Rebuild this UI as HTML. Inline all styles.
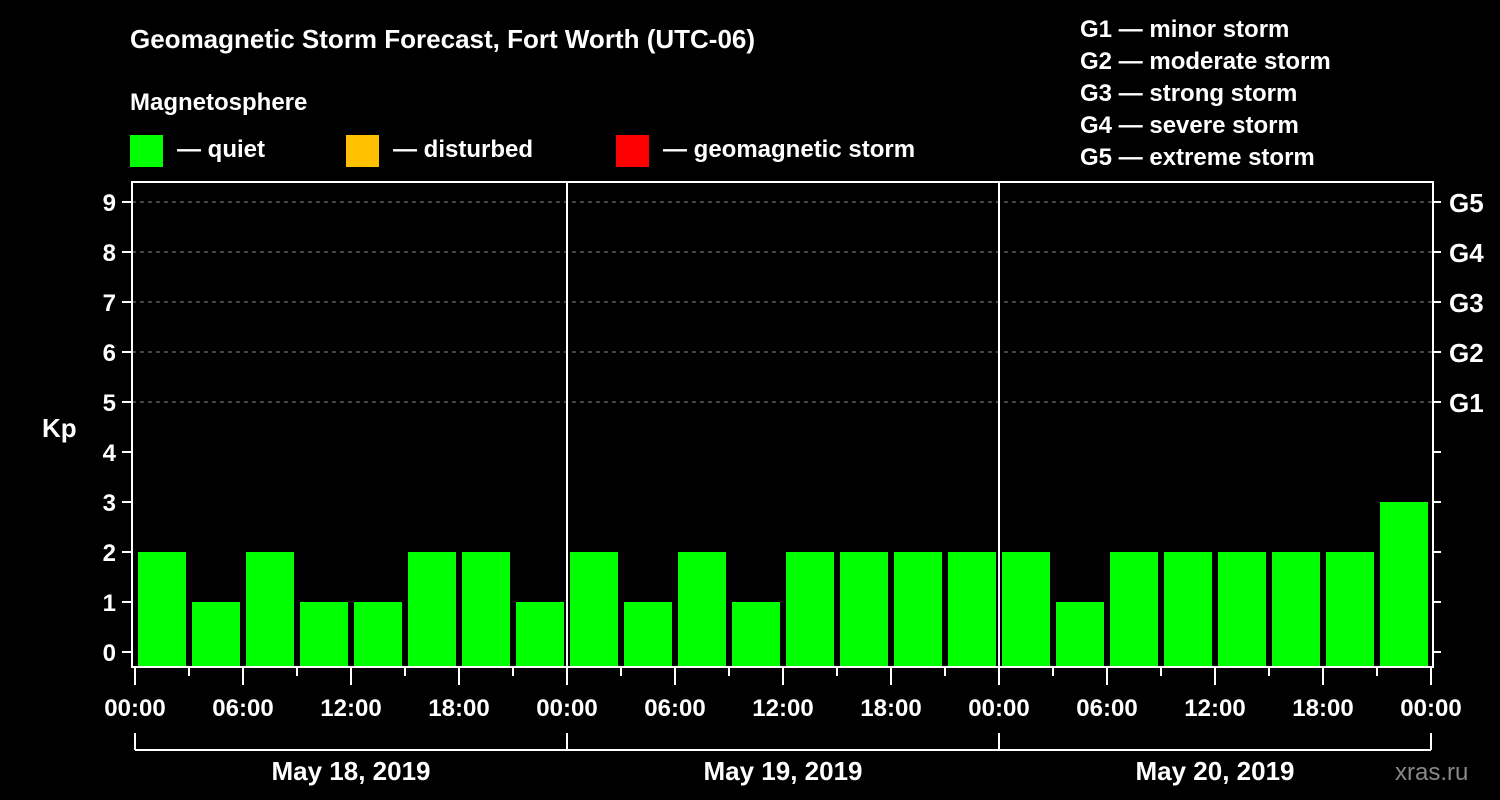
<!DOCTYPE html>
<html><head><meta charset="utf-8"><style>
body{margin:0;background:#000;}
svg{display:block;font-family:"Liberation Sans",Arial,sans-serif;font-weight:bold;}
</style></head><body>
<svg width="1500" height="800" viewBox="0 0 1500 800">
<rect width="1500" height="800" fill="#000"/>
<text x="130" y="48" fill="#fff" font-size="26">Geomagnetic Storm Forecast, Fort Worth (UTC-06)</text>
<text x="130" y="110" fill="#fff" font-size="24">Magnetosphere</text>
<g><rect x="130" y="135" width="33" height="32" fill="#00ff00"/><text x="177" y="157" fill="#fff" font-size="24">— quiet</text></g>
<g><rect x="346" y="135" width="33" height="32" fill="#ffc000"/><text x="393" y="157" fill="#fff" font-size="24">— disturbed</text></g>
<g><rect x="616" y="135" width="33" height="32" fill="#ff0000"/><text x="663" y="157" fill="#fff" font-size="24">— geomagnetic storm</text></g>
<g fill="#fff" font-size="24">
<text x="1080" y="37">G1 — minor storm</text>
<text x="1080" y="69">G2 — moderate storm</text>
<text x="1080" y="101">G3 — strong storm</text>
<text x="1080" y="133">G4 — severe storm</text>
<text x="1080" y="165">G5 — extreme storm</text>
</g>
<text x="42" y="437" fill="#fff" font-size="26">Kp</text>
<text x="1395" y="780" fill="#888" font-size="24" font-weight="normal">xras.ru</text>
<g id="chart"></g>
</svg>
<script>
const kpValues=[2,1,2,1,1,2,2,1, 2,1,2,1,2,2,2,2, 2,1,2,2,2,2,2,3];
const dayLabels=["May 18, 2019","May 19, 2019","May 20, 2019"];
const hourLabels=["00:00","06:00","12:00","18:00"];
const yTicks=[0,1,2,3,4,5,6,7,8,9];
const gLabels=["G1","G2","G3","G4","G5"];
const NS="http://www.w3.org/2000/svg";
const g=document.getElementById('chart');
const X0=135,SLOT=54,TOP=182,BOT=667,LEFT=132,RIGHT=1433;
const y=v=>652-v*50;
const x=i=>X0+i*SLOT;
function el(t,a,p){const e=document.createElementNS(NS,t);for(const k in a)e.setAttribute(k,a[k]);(p||g).appendChild(e);return e;}
// grid
for(let v=5;v<=9;v++){const l=el('line',{x1:LEFT,x2:RIGHT,y1:y(v),y2:y(v),stroke:'#888','stroke-dasharray':'4,4','stroke-width':1});

}
// bars
kpValues.forEach((v,i)=>{const c=v>=5?'#ff0000':(v>=4?'#ffc000':'#00ff00');
const r=el('rect',{x:x(i)+3,y:y(v),width:SLOT-6,height:BOT-y(v),fill:c});

});
// frame
const fr=el('rect',{x:LEFT,y:TOP,width:RIGHT-LEFT,height:BOT-TOP,fill:'none',stroke:'#fff','stroke-width':2});


for(let d=1;d<dayLabels.length;d++){const l=el('line',{x1:x(d*8),x2:x(d*8),y1:TOP,y2:BOT,stroke:'#fff','stroke-width':2});

}
// y ticks
yTicks.forEach(v=>{
el('line',{x1:122,x2:LEFT,y1:y(v),y2:y(v),stroke:'#fff','stroke-width':2});
el('line',{x1:RIGHT,x2:1441,y1:y(v),y2:y(v),stroke:'#fff','stroke-width':2});
const t=el('text',{x:116,y:y(v)+9,fill:'#fff','font-size':24,'text-anchor':'end'});t.textContent=v;

});
gLabels.forEach((s,i)=>{const t=el('text',{x:1449,y:y(5+i)+10,fill:'#fff','font-size':26});t.textContent=s;

});
// x ticks
for(let i=0;i<=kpValues.length;i++){const major=i%2===0;
el('line',{x1:x(i),x2:x(i),y1:BOT,y2:major?685:676,stroke:'#fff','stroke-width':2});
if(major){const t=el('text',{x:x(i),y:716,fill:'#fff','font-size':24,'text-anchor':'middle'});t.textContent=hourLabels[(i/2)%4];

}}
// day bracket
el('line',{x1:X0,x2:x(kpValues.length),y1:750,y2:750,stroke:'#fff','stroke-width':2});
for(let d=0;d<=dayLabels.length;d++)el('line',{x1:x(d*8),x2:x(d*8),y1:733,y2:750,stroke:'#fff','stroke-width':2});
dayLabels.forEach((s,d)=>{const t=el('text',{x:x(d*8+4),y:780,fill:'#fff','font-size':26,'text-anchor':'middle'});t.textContent=s;

});
</script>
</body></html>
